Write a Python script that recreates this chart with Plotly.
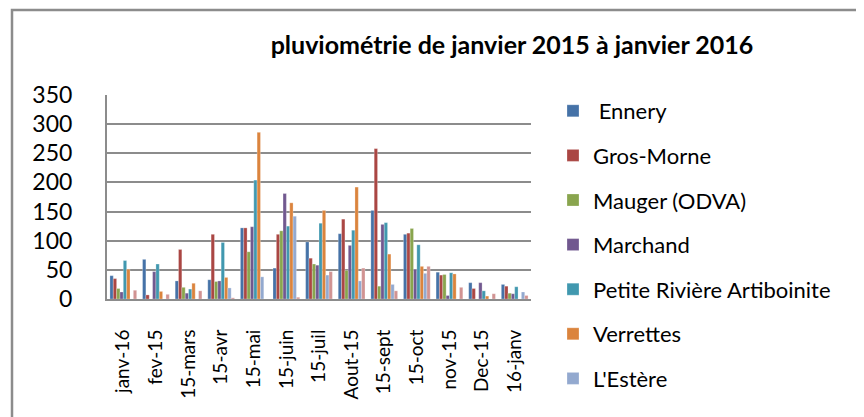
import plotly.graph_objects as go

categories = ["janv-16", "fev-15", "15-mars", "15-avr", "15-mai", "15-juin", "15-juil",
              "Aout-15", "15-sept", "15-oct", "nov-15", "Dec-15", "16-janv"]

ennery = [40, 68, 31, 33, 122, 53, 98, 112, 152, 111, 46, 28, 25]
gros_morne = [35, 7, 85, 111, 122, 111, 70, 137, 258, 113, 41, 18, 22]
mauger = [18, 0, 20, 30, 81, 117, 60, 49, 22, 121, 42, 0, 10]
marchand = [12, 47, 10, 31, 124, 181, 58, 92, 128, 51, 6, 28, 9]
petite_riviere = [66, 60, 17, 97, 204, 125, 130, 118, 131, 93, 45, 14, 21]
verrettes = [51, 13, 27, 37, 286, 165, 152, 192, 77, 56, 43, 5, 0]
lestere = [0, 0, 0, 19, 38, 142, 41, 31, 25, 44, 0, 0, 12]
serie8 = [15, 8, 14, 2, 0, 3, 47, 53, 14, 56, 20, 9, 6]

series = [
    (" Ennery", ennery, "#4572A7", True),
    ("Gros-Morne", gros_morne, "#AA4643", True),
    ("Mauger (ODVA)", mauger, "#89A54E", True),
    ("Marchand", marchand, "#71588F", True),
    ("Petite Rivière Artiboinite", petite_riviere, "#4198AF", True),
    ("Verrettes", verrettes, "#DB843D", True),
    ("L'Estère", lestere, "#93A9CF", True),
    ("", serie8, "#D19392", False),
]

fig = go.Figure()
for i, (name, vals, color, show) in enumerate(series):
    fig.add_trace(go.Bar(
        x=categories, y=vals, name=name, showlegend=show,
        legendgroup=f"g{i}",
        marker=dict(color=color, line=dict(color="rgba(255,255,255,0.5)", width=0.5)),
    ))

# page body has an 8px margin; work in screen coordinates and offset
OFF = 8
W, H = 864, 417
L = 107 - OFF
T = 95 - OFF
B = H - (299 - OFF)
R = W - (531 - OFF)
pw, ph = W - L - R, H - T - B

def px(xs):
    return (xs - OFF - L) / pw

def py(ys):
    return (H - B - (ys - OFF)) / ph

fig.add_shape(type="rect", xref="paper", yref="paper",
              x0=px(12), x1=px(859), y0=py(440), y1=py(10),
              line=dict(color="#8C8C8C", width=2.5), fillcolor="rgba(0,0,0,0)", layer="below")

fig.update_layout(
    width=W, height=H,
    margin=dict(l=L, r=R, t=T, b=B, autoexpand=False),
    paper_bgcolor="white", plot_bgcolor="white",
    barmode="group", bargap=0.18, bargroupgap=0,
    font=dict(family="Lato", color="black"),
    title=dict(text="<b>pluviométrie de janvier 2015 à janvier 2016</b>",
               x=px(512), xref="paper", xanchor="center",
               y=1 - (45 - OFF) / H, yref="container", yanchor="middle",
               font=dict(size=25, family="Lato", color="black")),
    legend=dict(x=px(553), y=py(90), xanchor="left", yanchor="top",
                font=dict(size=22, family="Lato"), tracegroupgap=13,
                traceorder="grouped", bgcolor="rgba(0,0,0,0)", maxheight=400),
    xaxis=dict(showgrid=False, showline=True, linecolor="#8C8C8C", linewidth=2,
               tickangle=-90, tickfont=dict(size=19, family="Lato"),
               ticklabelstandoff=21, ticks="", automargin=False),
    yaxis=dict(range=[0, 350], dtick=50, showgrid=True, gridcolor="#8C8C8C", gridwidth=2,
               showline=True, linecolor="#8C8C8C", linewidth=2, zeroline=False,
               tickfont=dict(size=23, family="Lato"), ticklabelstandoff=28, ticks="",
               automargin=False),
)

fig.write_html("out.html")
